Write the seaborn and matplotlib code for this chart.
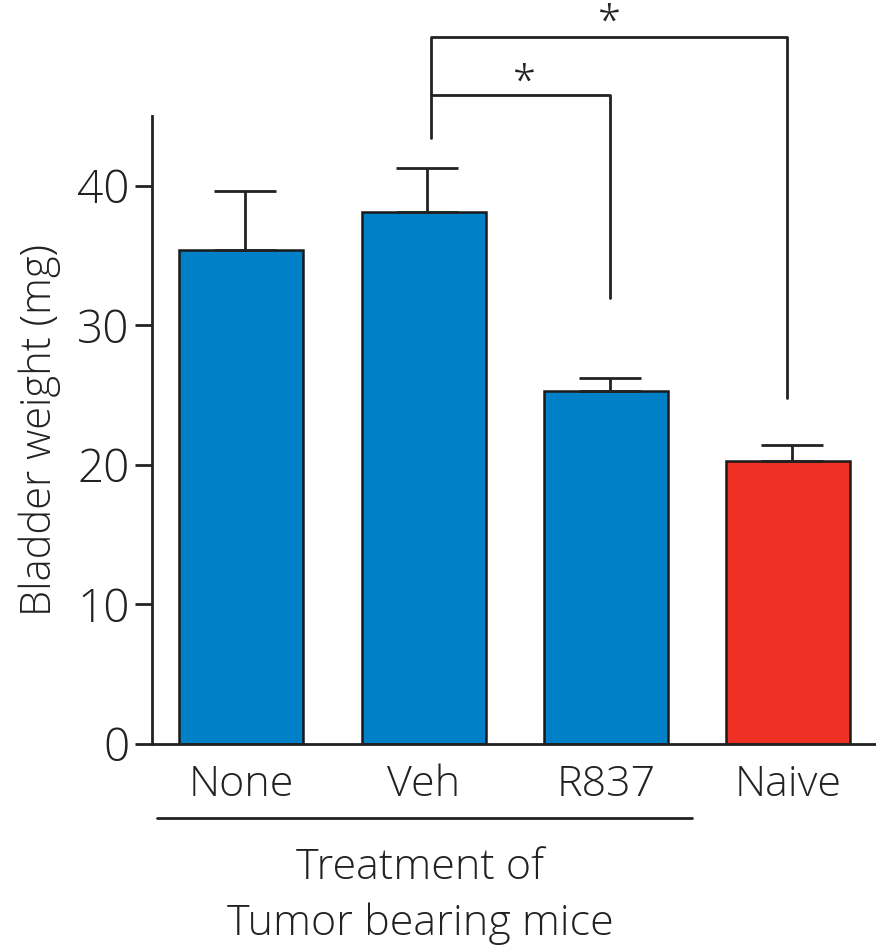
import pandas as pd
import seaborn as sns
import numpy as np
import matplotlib.pyplot as plt

# values
groups = ['None', 'Veh', 'R837', 'Naive']
weight = [35.4, 38.1, 25.3, 20.3]
sem = [4.2, 3.2, 0.9, 1.1]
bar_colors = ['#0080C6', '#0080C6', '#0080C6', '#EE3124']

df = pd.DataFrame({'group': groups, 'weight': weight})

sns.set_style('ticks')
plt.rcParams['font.family'] = ['Open Sans', 'DejaVu Sans']
plt.rcParams['font.weight'] = 'light'
plt.rcParams['axes.labelweight'] = 'light'

fig = plt.figure(figsize=(8.76, 9.52), dpi=100)
ax = fig.add_axes([0.1735, 0.2185, 0.8265, 0.6595])

sns.barplot(data=df, x='group', y='weight', hue='group', palette=bar_colors,
            saturation=1, legend=False, width=0.68, edgecolor='#1a1a1a',
            linewidth=1.8, ax=ax)

# upper error bars only
xpos = np.arange(len(groups)) + 0.02
ax.errorbar(xpos, weight, yerr=[np.zeros(len(sem)), sem], fmt='none',
            ecolor='#222222', elinewidth=2, capsize=22, capthick=2, zorder=1)

ax.set_ylim(0, 45)
ax.set_xlim(-0.49, 3.48)
ax.set_yticks([0, 10, 20, 30, 40])
ax.tick_params(axis='y', labelsize=33, length=12, width=2, color='#222222', pad=4)
ax.tick_params(axis='x', labelsize=31, length=0, pad=14)
for lab in ax.get_yticklabels() + ax.get_xticklabels():
    lab.set_color('#222222')
ax.set_xlabel('')
ax.set_ylabel('Bladder weight (mg)', fontsize=30, fontweight='light', color='#222222',
              labelpad=12)
sns.despine(ax=ax)
for s in ['left', 'bottom']:
    ax.spines[s].set_linewidth(2)
    ax.spines[s].set_color('#222222')

# significance brackets
kw = dict(color='#222222', lw=2, clip_on=False)
ax.plot([1.04, 1.04, 2.02, 2.02], [43.4, 46.5, 46.5, 32.0], **kw)
ax.plot([1.04, 1.04, 2.99, 2.99], [46.5, 50.7, 50.7, 24.8], **kw)
ax.text(1.55, 48.9, '*', fontsize=30, ha='center', va='top', color='#222222')
ax.text(2.02, 53.2, '*', fontsize=30, ha='center', va='top', color='#222222')

# group underline and label
fig.add_artist(plt.Line2D([157 / 876, 692 / 876], [1 - 818 / 952, 1 - 818 / 952],
                          color='#222222', lw=2))
fig.text(420 / 876, 1 - 868 / 952, 'Treatment of', fontsize=31, ha='center', va='center',
         color='#222222')
fig.text(420 / 876, 1 - 924 / 952, 'Tumor bearing mice', fontsize=31, ha='center', va='center',
         color='#222222')

fig.savefig('out.png', dpi=100)
